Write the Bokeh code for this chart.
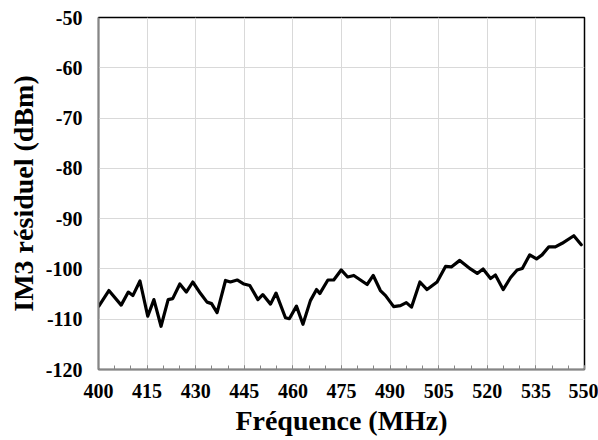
from bokeh.plotting import figure
from bokeh.models import Range1d, FixedTicker
from bokeh.embed import file_html
from bokeh.resources import INLINE

freq_mhz = [400.1, 403.2, 407.0, 409.2, 410.6, 412.8, 415.2, 417.1, 419.3, 421.5,
            422.9, 425.1, 427.1, 429.1, 431.5, 433.5, 434.9, 436.6, 439.2, 440.7,
            442.8, 444.9, 446.7, 449.2, 450.7, 453.1, 454.8, 457.7, 458.9, 461.1,
            463.1, 465.4, 467.3, 468.3, 470.8, 472.6, 474.9, 476.9, 478.8, 482.9,
            484.8, 487.0, 488.6, 491.1, 493.2, 495.0, 496.6, 499.2, 501.4, 504.5,
            507.1, 508.9, 511.5, 514.8, 516.9, 518.7, 521.0, 522.5, 524.9, 527.2,
            529.2, 530.8, 533.1, 535.2, 536.9, 539.0, 541.0, 543.1, 546.7, 549.0]
im3_dbm = [-107.4, -104.3, -107.2, -104.6, -105.3, -102.4, -109.4, -106.1, -111.4, -106.1,
           -105.9, -103.0, -104.6, -102.6, -104.9, -106.6, -106.9, -108.7, -102.3, -102.6,
           -102.2, -103.0, -103.3, -106.1, -105.1, -107.0, -104.8, -109.7, -109.9, -107.4,
           -111.0, -106.3, -104.1, -104.9, -102.2, -102.2, -100.2, -101.6, -101.3, -103.1,
           -101.3, -104.3, -105.3, -107.5, -107.3, -106.7, -107.6, -102.6, -104.1, -102.6,
           -99.5, -99.6, -98.3, -100.0, -100.9, -100.0, -101.9, -101.2, -104.1, -101.7,
           -100.2, -99.9, -97.2, -98.0, -97.2, -95.6, -95.6, -94.9, -93.4, -95.2]
x_ticks = [400, 415, 430, 445, 460, 475, 490, 505, 520, 535, 550]
y_ticks = [-120, -110, -100, -90, -80, -70, -60, -50]
x_title = "Fréquence (MHz)"
y_title = "IM3 résiduel (dBm)"

FONT = "Liberation Serif"

p = figure(width=598, height=440, output_backend="svg", toolbar_location=None,
           x_range=Range1d(400, 550), y_range=Range1d(-120, -50),
           min_border_left=98, min_border_right=14, min_border_top=17, min_border_bottom=71)
p.background_fill_color = "white"
p.border_fill_color = "white"
p.outline_line_color = "black"
p.outline_line_width = 1.5

p.line(freq_mhz, im3_dbm, line_color="black", line_width=3.2, line_join="round", line_cap="round")

# grids
p.xgrid.ticker = FixedTicker(ticks=x_ticks)
p.ygrid.ticker = FixedTicker(ticks=y_ticks)
for g in (p.xgrid[0], p.ygrid[0]):
    g.grid_line_color = "#d9d9d9"
    g.grid_line_width = 1

# x axis
xa = p.xaxis[0]
xa.ticker = FixedTicker(ticks=x_ticks, minor_ticks=list(range(400, 551, 5)))
xa.major_label_overrides = {t: str(t) for t in x_ticks}
xa.axis_label = x_title
xa.axis_label_text_font = FONT
xa.axis_label_text_font_style = "bold"
xa.axis_label_text_font_size = "28px"
xa.axis_label_text_color = "black"
xa.axis_label_standoff = 4
xa.major_label_text_font = FONT
xa.major_label_text_font_style = "bold"
xa.major_label_text_font_size = "20px"
xa.major_label_text_color = "black"
xa.major_label_standoff = 14
xa.axis_line_color = "#868686"
xa.axis_line_width = 1.5
xa.major_tick_in = 4
xa.major_tick_out = 0
xa.minor_tick_in = 4
xa.minor_tick_out = 0
xa.major_tick_line_color = "#868686"
xa.minor_tick_line_color = "#868686"

# y axis
ya = p.yaxis[0]
ya.ticker = FixedTicker(ticks=y_ticks)
ya.major_label_overrides = {t: str(t) for t in y_ticks}
ya.axis_label = y_title
ya.axis_label_text_font = FONT
ya.axis_label_text_font_style = "bold"
ya.axis_label_text_font_size = "28px"
ya.axis_label_text_color = "black"
ya.axis_label_standoff = 4
ya.major_label_text_font = FONT
ya.major_label_text_font_style = "bold"
ya.major_label_text_font_size = "20px"
ya.major_label_text_color = "black"
ya.major_label_standoff = 16
ya.axis_line_color = "#868686"
ya.axis_line_width = 1.5
ya.major_tick_in = 0
ya.major_tick_out = 0
ya.minor_tick_in = 0
ya.minor_tick_out = 0

open("out.html", "w").write(file_html(p, INLINE))
